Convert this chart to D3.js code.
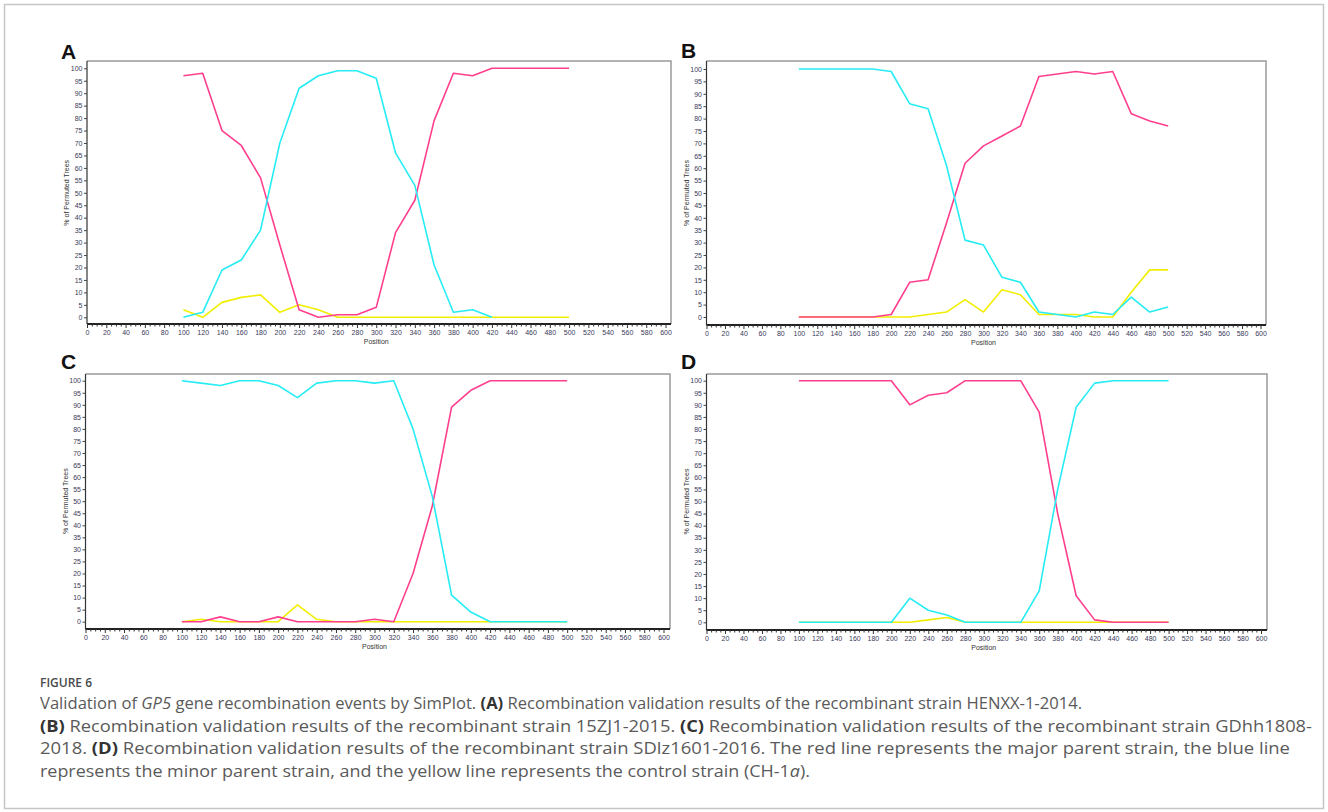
<!DOCTYPE html>
<html>
<head>
<meta charset="utf-8">
<script src="https://cdn.jsdelivr.net/npm/d3@7"></script>
<style>
  body { margin: 0; background: #fff; }
  svg { display: block; }
</style>
</head>
<body>
<div class="figure"></div>
<script>
'use strict'
// window positions (bp), one point every 20
const positions = [100, 120, 140, 160, 180, 200, 220, 240, 260, 280, 300, 320, 340, 360, 380, 400, 420, 440, 460, 480, 500]

// A: HENXX-1-2014
const aMajor = [97, 98, 75, 69, 56, 29, 3, 0, 1, 1, 4, 34, 47, 79, 98, 97, 100, 100, 100, 100, 100]
const aMinor = [0, 2, 19, 23, 35, 70, 92, 97, 99, 99, 96, 66, 53, 21, 2, 3, 0, null, null, null, null]
const aControl = [3, 0, 6, 8, 9, 2, 5, 3, 0, 0, 0, 0, 0, 0, 0, 0, 0, 0, 0, 0, 0]

// B: 15ZJ1-2015
const bMajor = [0, 0, 0, 0, 0, 1, 14, 15, 38, 62, 69, 73, 77, 97, 98, 99, 98, 99, 82, 79, 77]
const bMinor = [100, 100, 100, 100, 100, 99, 86, 84, 61, 31, 29, 16, 14, 2, 1, 0, 2, 1, 8, 2, 4]
const bControl = [0, 0, 0, 0, 0, 0, 0, 1, 2, 7, 2, 11, 9, 1, 1, 1, 0, 0, 10, 19, 19]

// C: GDhh1808-2018
const cMajor = [0, 0, 2, 0, 0, 2, 0, 0, 0, 0, 1, 0, 20, 48, 89, 96, 100, 100, 100, 100, 100]
const cMinor = [100, 99, 98, 100, 100, 98, 93, 99, 100, 100, 99, 100, 80, 52, 11, 4, 0, 0, 0, 0, 0]
const cControl = [0, 1, 0, 0, 0, 0, 7, 1, 0, 0, 0, 0, 0, 0, 0, 0, 0, 0, 0, 0, 0]

// D: SDlz1601-2016
const dMajor = [100, 100, 100, 100, 100, 100, 90, 94, 95, 100, 100, 100, 100, 87, 45, 11, 1, 0, 0, 0, 0]
const dMinor = [0, 0, 0, 0, 0, 0, 10, 5, 3, 0, 0, 0, 0, 13, 55, 89, 99, 100, 100, 100, 100]
const dControl = [0, 0, 0, 0, 0, 0, 0, 1, 2, 0, 0, 0, 0, 0, 0, 0, 0, 0, 0, 0, 0]

const xTickValues = d3.range(0, 601, 5)
const yTickValues = d3.range(0, 101, 5)

const colors = { control: '#f2ee00', major: '#ff3f8e', minor: '#26ecf4' }

const panels = [
  { letter: 'A', major: aMajor, minor: aMinor, control: aControl, x0: 87, x600: 665.5, right: 671, y0: 317.3, y100: 68.3, top: 61, bottom: 324, lx: 61, ly: 59 },
  { letter: 'B', major: bMajor, minor: bMinor, control: bControl, x0: 706.5, x600: 1260.5, right: 1266, y0: 317, y100: 69, top: 61, bottom: 325, lx: 681, ly: 58 },
  { letter: 'C', major: cMajor, minor: cMinor, control: cControl, x0: 85.5, x600: 663.5, right: 670, y0: 621.7, y100: 380.7, top: 374, bottom: 629, lx: 61, ly: 369 },
  { letter: 'D', major: dMajor, minor: dMinor, control: dControl, x0: 706.5, x600: 1261, right: 1267, y0: 622.3, y100: 380.7, top: 374, bottom: 630, lx: 681, ly: 369 }
]

const width = 1328
const height = 812

const svg = d3.select('.figure').append('svg')
  .attr('width', width)
  .attr('height', height)

// outer border of the figure box
svg.append('rect')
  .attr('x', 4.5)
  .attr('y', 4.5)
  .attr('width', width - 9)
  .attr('height', height - 8)
  .attr('fill', 'none')
  .attr('stroke', '#c6c6c6')
  .attr('stroke-width', 1.5)

panels.forEach(function (p) {
  const x = d3.scaleLinear().domain([0, 600]).range([p.x0, p.x600])
  const y = d3.scaleLinear().domain([0, 100]).range([p.y0, p.y100])
  const g = svg.append('g')

  // frame (top and right are grey)
  g.append('path')
    .attr('d', 'M' + p.x0 + ',' + p.top + 'H' + p.right + 'V' + p.bottom)
    .attr('fill', 'none')
    .attr('stroke', '#9a9a9a')
    .attr('stroke-width', 1.5)

  const xAxis = g.append('g')
    .attr('transform', 'translate(0,' + p.bottom + ')')
    .call(d3.axisBottom(x)
      .tickValues(xTickValues)
      .tickSizeOuter(0)
      .tickFormat(function (d) { return d % 20 === 0 ? d : '' }))
  xAxis.select('.domain')
    .attr('d', 'M' + p.x0 + ',0H' + p.right)
    .attr('stroke', '#222')
    .attr('stroke-width', 2)
  xAxis.selectAll('.tick line')
    .attr('stroke', '#333')
    .attr('y2', function (d) { return d % 20 === 0 ? 4 : 2.5 })
  xAxis.selectAll('.tick text')
    .attr('y', 6)
    .attr('font-family', 'Liberation Sans, Arial, sans-serif')
    .attr('font-size', 7)
    .attr('fill', '#3a3a5a')

  const yAxis = g.append('g')
    .attr('transform', 'translate(' + p.x0 + ',0)')
    .call(d3.axisLeft(y)
      .tickValues(yTickValues)
      .tickSize(3)
      .tickSizeOuter(0))
  yAxis.select('.domain')
    .attr('d', 'M0,' + p.top + 'V' + p.bottom)
    .attr('stroke', '#333')
    .attr('stroke-width', 1.2)
  yAxis.selectAll('.tick line').attr('stroke', '#444')
  yAxis.selectAll('.tick text')
    .attr('x', -4.5)
    .attr('font-family', 'Liberation Sans, Arial, sans-serif')
    .attr('font-size', 7)
    .attr('fill', '#3a3a5a')

  g.append('text')
    .attr('x', (p.x0 + p.x600) / 2)
    .attr('y', p.bottom + 20)
    .attr('text-anchor', 'middle')
    .attr('font-family', 'Liberation Sans, Arial, sans-serif')
    .attr('font-size', 7)
    .attr('fill', '#333')
    .text('Position')

  g.append('text')
    .attr('transform', 'translate(' + (p.x0 - 18) + ',' + ((p.y0 + p.y100) / 2) + ') rotate(-90)')
    .attr('text-anchor', 'middle')
    .attr('font-family', 'Liberation Sans, Arial, sans-serif')
    .attr('font-size', 7)
    .attr('fill', '#333')
    .text('% of Permuted Trees')

  g.append('text')
    .attr('x', p.lx)
    .attr('y', p.ly)
    .attr('font-family', 'Liberation Sans, Arial, sans-serif')
    .attr('font-weight', 'bold')
    .attr('font-size', 21)
    .attr('fill', '#111')
    .text(p.letter)

  const line = d3.line()
    .defined(function (d) { return d != null })
    .x(function (d, i) { return x(positions[i]) })
    .y(function (d) { return y(d) })

  // drawing order: control under major under minor
  ;['control', 'major', 'minor'].forEach(function (key) {
    g.append('path')
      .datum(p[key])
      .attr('d', line)
      .attr('fill', 'none')
      .attr('stroke', colors[key])
      .attr('stroke-width', 1.6)
      .attr('stroke-linejoin', 'round')
  })
})

// caption
const caption = svg.append('g')
  .attr('font-family', 'Open Sans, sans-serif')
  .attr('fill', '#5a5a5a')

caption.append('text')
  .attr('x', 40)
  .attr('y', 687)
  .attr('font-size', 12)
  .attr('font-weight', 600)
  .attr('fill', '#4a4a4a')
  .text('FIGURE 6')

const captionLines = [
  [['Validation of '], ['GP5', 'i'], [' gene recombination events by SimPlot. '], ['(A)', 'b'], [' Recombination validation results of the recombinant strain HENXX-1-2014.']],
  [['(B)', 'b'], [' Recombination validation results of the recombinant strain 15ZJ1-2015. '], ['(C)', 'b'], [' Recombination validation results of the recombinant strain GDhh1808-']],
  [['2018. '], ['(D)', 'b'], [' Recombination validation results of the recombinant strain SDlz1601-2016. The red line represents the major parent strain, the blue line']],
  [['represents the minor parent strain, and the yellow line represents the control strain (CH-1'], ['a', 'i'], [').']]
]
const captionY = [709, 731.5, 754, 776.5]
// line widths
const captionWidths = [1042, 1272, 1250, 770]

captionLines.forEach(function (parts, i) {
  const t = caption.append('text')
    .attr('x', 40)
    .attr('y', captionY[i])
    .attr('font-size', 15.5)
    .attr('textLength', captionWidths[i])
    .attr('lengthAdjust', 'spacingAndGlyphs')
  parts.forEach(function (part) {
    const s = t.append('tspan').text(part[0])
    if (part[1] === 'b') s.attr('font-weight', 'bold').attr('fill', '#333')
    if (part[1] === 'i') s.attr('font-style', 'italic')
  })
})
</script>
</body>
</html>
